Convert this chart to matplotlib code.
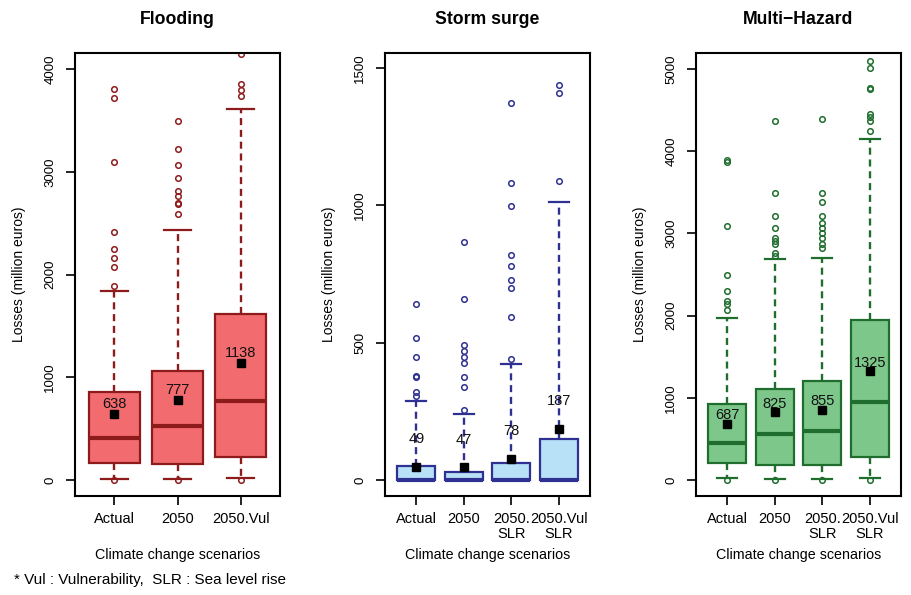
import matplotlib
matplotlib.use("Agg")
import matplotlib.pyplot as plt

plt.rcParams['font.family'] = ['Liberation Sans', 'DejaVu Sans']

# ---- data (million euros) ----
flood_labels = ["Actual", "2050", "2050.Vul"]
flood_q1 = [169, 156, 221]
flood_med = [412, 526, 773]
flood_q3 = [857, 1065, 1614]
flood_lo = [10, 10, 20]
flood_hi = [1844, 2438, 3614]
flood_mean = [638, 777, 1138]
flood_out = [
    [0, 1890, 2071, 2162, 2253, 2409, 3097, 3718, 3805],
    [0, 2591, 2685, 2695, 2766, 2808, 2942, 3065, 3218, 3490],
    [0, 3740, 3799, 3851, 4143],
]

surge_labels = ["Actual", "2050", "2050.\nSLR", "2050.Vul\nSLR"]
surge_q1 = [0, 0, 0, 0]
surge_med = [0, 0, 0, 0]
surge_q3 = [53, 28, 63, 148]
surge_lo = [0, 0, 0, 0]
surge_hi = [288, 242, 424, 1012]
surge_mean = [49, 47, 78, 187]
surge_out = [
    [305, 321, 376, 378, 447, 517, 642],
    [256, 340, 374, 428, 449, 469, 490, 661, 868],
    [441, 593, 700, 727, 778, 819, 997, 1083, 1373],
    [1090, 1409, 1437],
]

multi_labels = ["Actual", "2050", "2050.\nSLR", "2050.Vul\nSLR"]
multi_q1 = [211, 179, 179, 280]
multi_med = [450, 560, 601, 946]
multi_q3 = [921, 1108, 1201, 1944]
multi_lo = [24, 16, 16, 24]
multi_hi = [1976, 2683, 2699, 4148]
multi_mean = [687, 825, 855, 1325]
multi_out = [
    [0, 2074, 2139, 2179, 2305, 2492, 3093, 3864, 3896],
    [0, 2731, 2764, 2877, 2906, 2942, 3064, 3214, 3486, 4371],
    [0, 2817, 2877, 2946, 3007, 3064, 3121, 3214, 3377, 3486, 4387],
    [0, 4249, 4371, 4411, 4448, 4752, 4764, 5016, 5097],
]

panels = [
    dict(title="Flooding", labels=flood_labels, q1=flood_q1, med=flood_med, q3=flood_q3,
         lo=flood_lo, hi=flood_hi, mean=flood_mean, out=flood_out,
         fill="#f26b6e", edge="#8e1b1b", ylim=(-156, 4156), ticks=[0, 1000, 2000, 3000, 4000],
         left=75),
    dict(title="Storm surge", labels=surge_labels, q1=surge_q1, med=surge_med, q3=surge_q3,
         lo=surge_lo, hi=surge_hi, mean=surge_mean, out=surge_out,
         fill="#b8e0f6", edge="#2e3192", ylim=(-58, 1555), ticks=[0, 500, 1000, 1500],
         left=385),
    dict(title="Multi\u2212Hazard", labels=multi_labels, q1=multi_q1, med=multi_med, q3=multi_q3,
         lo=multi_lo, hi=multi_hi, mean=multi_mean, out=multi_out,
         fill="#7dc78a", edge="#1f6e2e", ylim=(-195, 5195), ticks=[0, 1000, 2000, 3000, 4000, 5000],
         left=696),
]

W, H = 912, 595
fig = plt.figure(figsize=(W / 100, H / 100), dpi=100)

for p in panels:
    ax = fig.add_axes([p["left"] / W, (H - 496) / H, 205 / W, 443 / H])
    n = len(p["labels"])
    stats = []
    for i in range(n):
        stats.append(dict(q1=p["q1"][i], med=p["med"][i], q3=p["q3"][i],
                          whislo=p["lo"][i], whishi=p["hi"][i],
                          mean=p["mean"][i], fliers=p["out"][i]))
    ec = p["edge"]
    ax.bxp(stats, positions=range(1, n + 1), widths=0.8, capwidths=0.42,
           patch_artist=True, showmeans=True,
           boxprops=dict(facecolor=p["fill"], edgecolor=ec, linewidth=1.6),
           medianprops=dict(color=ec, linewidth=3),
           whiskerprops=dict(color=ec, linewidth=1.7, linestyle=(0, (3, 2))),
           capprops=dict(color=ec, linewidth=1.6),
           flierprops=dict(marker="o", markerfacecolor="none", markeredgecolor=ec,
                           markersize=4, markeredgewidth=1.1),
           meanprops=dict(marker="s", markerfacecolor="black", markeredgecolor="black",
                          markersize=5.5))
    # mean values written just above the mean marker
    for i in range(n):
        ax.text(i + 1, p["mean"][i] + 100, str(p["mean"][i]), ha="center", va="center",
                fontsize=10.5, color="#111111")

    ax.set_xlim(0.5 - 0.04 * n, n + 0.5 + 0.04 * n)
    ax.set_ylim(*p["ylim"])
    ax.set_yticks(p["ticks"])
    ax.set_yticklabels([str(t) for t in p["ticks"]], rotation=90, va="center", fontsize=9.5)
    ax.set_xticks(range(1, n + 1))
    ax.set_xticklabels(p["labels"], fontsize=10.5, linespacing=1.05)
    ax.tick_params(axis="both", direction="out", length=6.5, width=1.2)
    ax.tick_params(axis="y", pad=7)
    ax.tick_params(axis="x", pad=5)
    for s in ax.spines.values():
        s.set_linewidth(1.5)
    ax.set_title(p["title"], fontsize=12.7, fontweight="bold", pad=21)
    ax.set_ylabel("Losses (million euros)", fontsize=10, labelpad=13)
    ax.set_xlabel("Climate change scenarios", fontsize=10.3)
    ax.xaxis.set_label_coords(0.5, -0.118)

fig.text(14 / W, 1 - 580 / H, "* Vul : Vulnerability,  SLR : Sea level rise",
         fontsize=11, va="center", ha="left")

fig.savefig("out.png", dpi=100)
